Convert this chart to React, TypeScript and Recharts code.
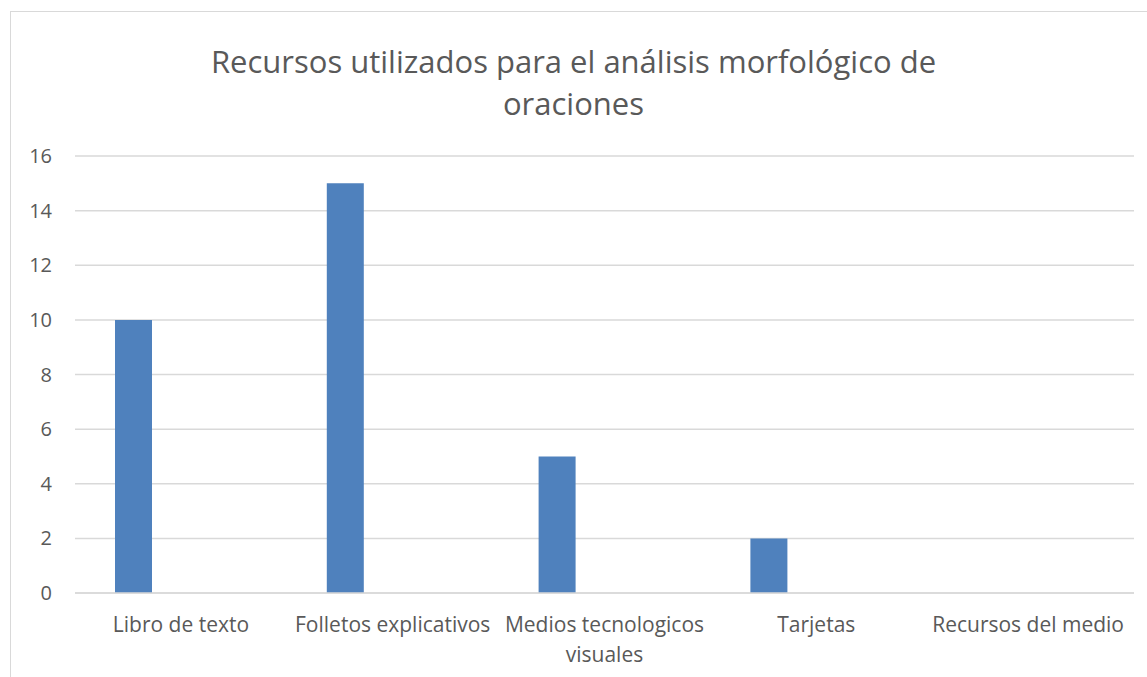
import React from "react"
import { BarChart, Bar, XAxis, YAxis, CartesianGrid } from "recharts"

const categories = [
  "Libro de texto",
  "Folletos explicativos",
  "Medios tecnologicos visuales",
  "Tarjetas",
  "Recursos del medio",
]
const recursos = [10, 15, 5, 2, 0]
const yTicks = [0, 2, 4, 6, 8, 10, 12, 14, 16]

const data = categories.map((name, i) => ({ name, recursos: recursos[i], vacio: null }))

const FONT = "'Open Sans', sans-serif"
const TEXT = "#595959"
const GRID = "#d9d9d9"

// crude word wrap by character count, the axis labels are short
function wrap(label: string, maxChars = 22) {
  const lines: string[] = []
  let cur = ""
  for (const w of label.split(" ")) {
    const next = cur ? cur + " " + w : w
    if (next.length > maxChars && cur) {
      lines.push(cur)
      cur = w
    } else {
      cur = next
    }
  }
  if (cur) lines.push(cur)
  return lines
}

function CategoryTick(props: any) {
  const { x, y, payload } = props
  const lines = wrap(String(payload.value))
  return (
    <text x={x} y={y + 39} textAnchor="middle" fill={TEXT} fontSize={21} fontFamily={FONT}>
      {lines.map((l, i) => (
        <tspan key={i} x={x} dy={i === 0 ? 0 : 30}>
          {l}
        </tspan>
      ))}
    </text>
  )
}

export default function App() {
  return (
    <div style={{ position: "absolute", left: 0, top: 0, width: 1147, height: 677, background: "#fff", overflow: "hidden" }}>
      <div
        style={{
          position: "absolute",
          left: 10,
          top: 11,
          width: 1140,
          height: 700,
          border: `1px solid ${GRID}`,
          boxSizing: "border-box",
        }}
      />
      <div
        style={{
          position: "absolute",
          left: 0,
          top: 40,
          width: 1147,
          textAlign: "center",
          fontFamily: FONT,
          fontSize: 31,
          lineHeight: "42px",
          color: TEXT,
        }}
      >
        Recursos utilizados para el análisis morfológico de
        <br />
        oraciones
      </div>
      <div style={{ position: "absolute", left: 0, top: 0 }}>
        <BarChart
          width={1147}
          height={677}
          data={data}
          margin={{ top: 156, right: 13, bottom: 24, left: 0 }}
          barSize={37}
          barGap={57}
        >
          <CartesianGrid vertical={false} stroke={GRID} strokeWidth={1.5} />
          <XAxis
            dataKey="name"
            axisLine={{ stroke: GRID, strokeWidth: 1.5 }}
            tickLine={false}
            tickSize={0}
            tickMargin={0}
            height={60}
            interval={0}
            tick={<CategoryTick />}
          />
          <YAxis
            width={75}
            domain={[0, 16]}
            ticks={yTicks}
            axisLine={false}
            tickLine={false}
            tickSize={0}
            tickMargin={23}
            tick={{ fill: TEXT, fontSize: 20, fontFamily: FONT }}
          />
          <Bar dataKey="recursos" fill="#4F81BD" isAnimationActive={false} />
          <Bar dataKey="vacio" fill="#C0504D" isAnimationActive={false} />
        </BarChart>
      </div>
    </div>
  )
}
